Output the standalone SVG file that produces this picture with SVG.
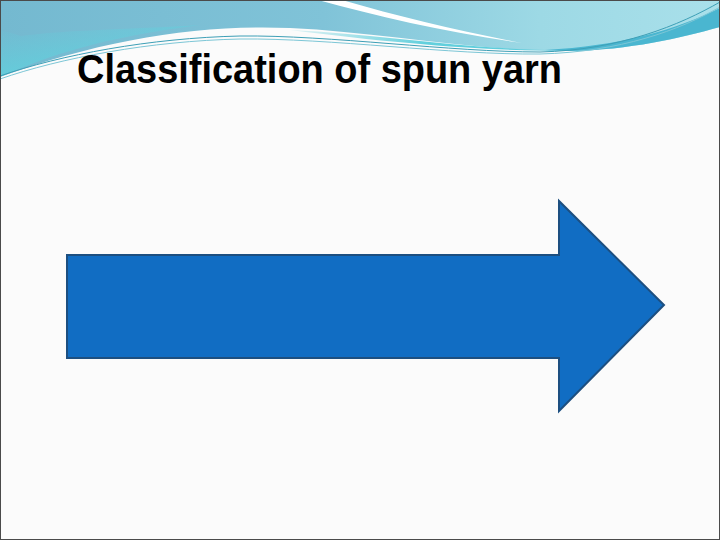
<svg xmlns="http://www.w3.org/2000/svg" width="720" height="540" viewBox="0 0 720 540">
  <defs>
    <linearGradient id="bandGrad" x1="0" y1="0" x2="1" y2="0">
      <stop offset="0" stop-color="#74b9d0"/>
      <stop offset="0.45" stop-color="#80c3d8"/>
      <stop offset="0.75" stop-color="#9dd9e5"/>
      <stop offset="1" stop-color="#a9e0ea"/>
    </linearGradient>
    <linearGradient id="leftGlow" x1="0" y1="0" x2="0.6" y2="1">
      <stop offset="0" stop-color="#5fd2de" stop-opacity="0"/>
      <stop offset="0.6" stop-color="#5fd2de" stop-opacity="0.6"/>
      <stop offset="1" stop-color="#62d6e0" stop-opacity="1"/>
    </linearGradient>
    <linearGradient id="cyanStrip" x1="0" y1="0" x2="1" y2="0">
      <stop offset="0" stop-color="#6fd0dc" stop-opacity="0.2"/>
      <stop offset="0.5" stop-color="#62d0dd"/>
      <stop offset="1" stop-color="#5ccbdb"/>
    </linearGradient>
    <style>
      .title { font-family: "Liberation Sans", Arial, sans-serif; font-weight: bold; font-size: 41px; fill: #000; }
      .arrow { fill: #116dc3; stroke: #1d4f80; stroke-width: 2; stroke-linejoin: miter; }
      .wline { fill: none; stroke-width: 1; }
    </style>
  </defs>

  <rect x="0" y="0" width="720" height="540" fill="#fbfbfb"/>

  <g id="header">
    <path d="M0,0 H720 V27 C680,38 630,50 570,51 C480,52 380,32 290,28 C200,24 100,40 0,77 Z" fill="url(#bandGrad)"/>
    <path d="M0,30 C40,40 60,50 0,77 Z M0,40 C40,30 120,30 200,25 C100,38 50,55 0,77 Z" fill="url(#leftGlow)"/>
    <path d="M290,30 C380,34 470,50 560,50 C500,52 400,44 290,30 Z" fill="url(#cyanStrip)"/>
    <path d="M545,50 C620,46 675,30 720,8 V27 C680,38 630,50 570,51 Z" fill="#4ab6d0"/>
    <path d="M318,0 L342,0 C400,17 460,31 522,43 C450,33 380,17 318,0 Z" fill="#ffffff"/>
    <path class="wline" stroke="#3d9fb6" d="M0,76 C60,55 150,38 240,36 C330,35 450,52 540,52 C620,50 680,25 720,2"/>
    <path class="wline" stroke="#7cc6d6" d="M0,79 C60,58 150,41 240,39 C330,38 450,55 540,54 C620,52 680,30 720,7"/>
  </g>

  <g id="title">
    <text class="title" x="77" y="83" textLength="485" lengthAdjust="spacingAndGlyphs">Classification of spun yarn</text>
  </g>

  <g id="arrow">
    <polygon class="arrow" points="67,255 559,255 559,201 664,305 559,411 559,358 67,358"/>
  </g>

  <rect x="0.5" y="0.5" width="719" height="539" fill="none" stroke="#4a4a4a" stroke-width="1"/>
</svg>
